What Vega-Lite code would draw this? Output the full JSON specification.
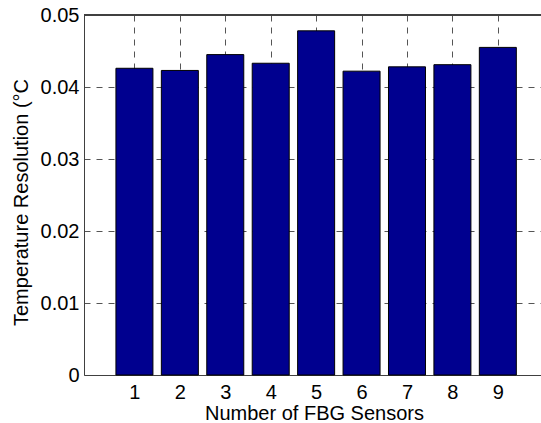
{
  "$schema": "https://vega.github.io/schema/vega-lite/v6.json",
  "width": 457,
  "height": 360,
  "autosize": "none",
  "padding": {"left": 84, "top": 15, "right": 0, "bottom": 48},
  "background": "white",
  "config": {
    "view": {"stroke": null},
    "font": "Liberation Sans",
    "axis": {
      "labelFont": "Liberation Sans",
      "titleFont": "Liberation Sans",
      "labelFontSize": 20,
      "titleFontSize": 20,
      "labelColor": "black",
      "titleColor": "black",
      "titleFontWeight": "normal",
      "domainColor": "#404040",
      "domainWidth": 1,
      "gridColor": "#555555",
      "gridDash": [6, 6],
      "gridWidth": 1,
      "ticks": false,
      "labelFlush": false,
      "labelOverlap": false
    }
  },
  "data": {
    "values": [
      {"sensors": 1, "resolution": 0.0426},
      {"sensors": 2, "resolution": 0.0423},
      {"sensors": 3, "resolution": 0.0445},
      {"sensors": 4, "resolution": 0.0433},
      {"sensors": 5, "resolution": 0.0478},
      {"sensors": 6, "resolution": 0.0422},
      {"sensors": 7, "resolution": 0.0428},
      {"sensors": 8, "resolution": 0.0431},
      {"sensors": 9, "resolution": 0.0455}
    ]
  },
  "layer": [
    {
      "mark": {"type": "bar", "size": 37, "fill": "#00008F", "stroke": "black", "strokeWidth": 1},
      "encoding": {
        "x": {
          "field": "sensors",
          "type": "quantitative",
          "scale": {"domain": [0, 9.84], "nice": false, "zero": false},
          "axis": {
            "values": [1, 2, 3, 4, 5, 6, 7, 8, 9],
            "format": "d",
            "grid": true,
            "labelBaseline": "alphabetic",
            "labelPadding": 23,
            "title": "Number of FBG Sensors",
            "titleBaseline": "alphabetic",
            "titleY": 44,
            "titleX": 230,
            "titleAnchor": "middle"
          }
        },
        "y": {
          "field": "resolution",
          "type": "quantitative",
          "scale": {"domain": [0, 0.05], "nice": false},
          "axis": {
            "values": [0, 0.01, 0.02, 0.03, 0.04, 0.05],
            "format": "~g",
            "grid": true,
            "labelPadding": 5,
            "title": "Temperature Resolution (°C",
            "titleAngle": 270,
            "titleAlign": "center",
            "titleBaseline": "alphabetic",
            "titleX": -57,
            "titleY": 187
          }
        }
      }
    },
    {
      "mark": {"type": "rule", "color": "#404040", "strokeWidth": 1},
      "encoding": {"y": {"datum": 0.05}}
    }
  ]
}
